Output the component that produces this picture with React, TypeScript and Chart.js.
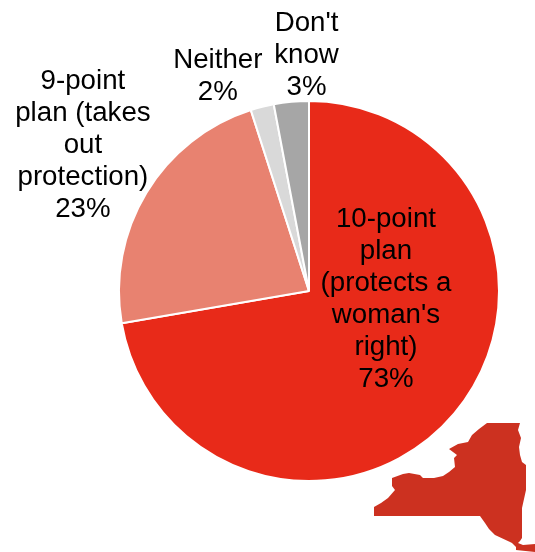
import React, { useEffect, useRef } from "react";
import { Chart, registerables } from "chart.js";

Chart.register(...registerables);

const categories = ["10-point plan (protects a woman's right)", "9-point plan (takes out protection)", "Neither", "Don't know"];
const values = [73, 23, 2, 3];
const colors = ["#E82A19", "#E88270", "#D9D9D9", "#A6A6A6"];
const labelLines = [
  ["10-point", "plan", "(protects a", "woman's", "right)"],
  ["9-point", "plan (takes", "out", "protection)"],
  ["Neither"],
  ["Don't", "know"],
];
// label block centre relative to the pie centre, as a fraction of the radius
const labelOffsets = [
  [0.405, 0.044],
  [-1.19, -0.768],
  [-0.48, -1.13],
  [-0.013, -1.24],
];
const nyOutline =
  "487,423 520,423 518,430 521,438 519,447 520,455 522,462 526,465 526,490 522,508 522,538 520,541 518,543 523,545 535,544 535,552 516,550 516,547 512,543 495,535 489,529 485,523 480,516 374,516 374,507 381,503 388,498 395,490 392,486 392,478 403,474 409,473 420,475 423,478 434,478 443,476 449,472 455,467 454,458 457,455 449,449 458,444 468,442 472,435 479,429";

const FONT_SIZE = 27.7;
const LINE_HEIGHT = 32;

const pieLabels = {
  id: "pieLabels",
  afterDatasetsDraw(chart: any) {
    const arc = chart.getDatasetMeta(0).data[0];
    const { x, y, outerRadius } = arc;
    const ctx = chart.ctx;
    ctx.save();
    ctx.font = `${FONT_SIZE}px "Liberation Sans", Arial, sans-serif`;
    ctx.fillStyle = "#000000";
    ctx.textAlign = "center";
    ctx.textBaseline = "middle";
    values.forEach((v, i) => {
      const lines = [...labelLines[i], `${v}%`];
      const cx = x + labelOffsets[i][0] * outerRadius;
      const cy = y + labelOffsets[i][1] * outerRadius;
      const top = cy - ((lines.length - 1) * LINE_HEIGHT) / 2;
      lines.forEach((line, j) => ctx.fillText(line, cx, top + j * LINE_HEIGHT));
    });
    ctx.restore();
  },
};

export default function App() {
  const ref = useRef<HTMLCanvasElement>(null);
  useEffect(() => {
    const chart = new Chart(ref.current!, {
      type: "pie",
      data: {
        labels: categories,
        datasets: [{ data: values, backgroundColor: colors, borderColor: "#FFFFFF", borderWidth: 2 }],
      },
      options: {
        animation: false,
        responsive: false,
        layout: { padding: { left: 118, right: 35, top: 100, bottom: 70 } },
        plugins: { legend: { display: false }, tooltip: { enabled: false } },
      },
      plugins: [pieLabels],
    });
    return () => chart.destroy();
  }, []);
  return (
    <div style={{ position: "absolute", left: 0, top: 0, width: 535, height: 552, overflow: "hidden", background: "#fff" }}>
      <canvas ref={ref} width={535} height={552} style={{ display: "block" }} />
      <svg width={535} height={552} style={{ position: "absolute", left: 0, top: 0 }}>
        <polygon points={nyOutline} fill="#CC3120" />
      </svg>
    </div>
  );
}
